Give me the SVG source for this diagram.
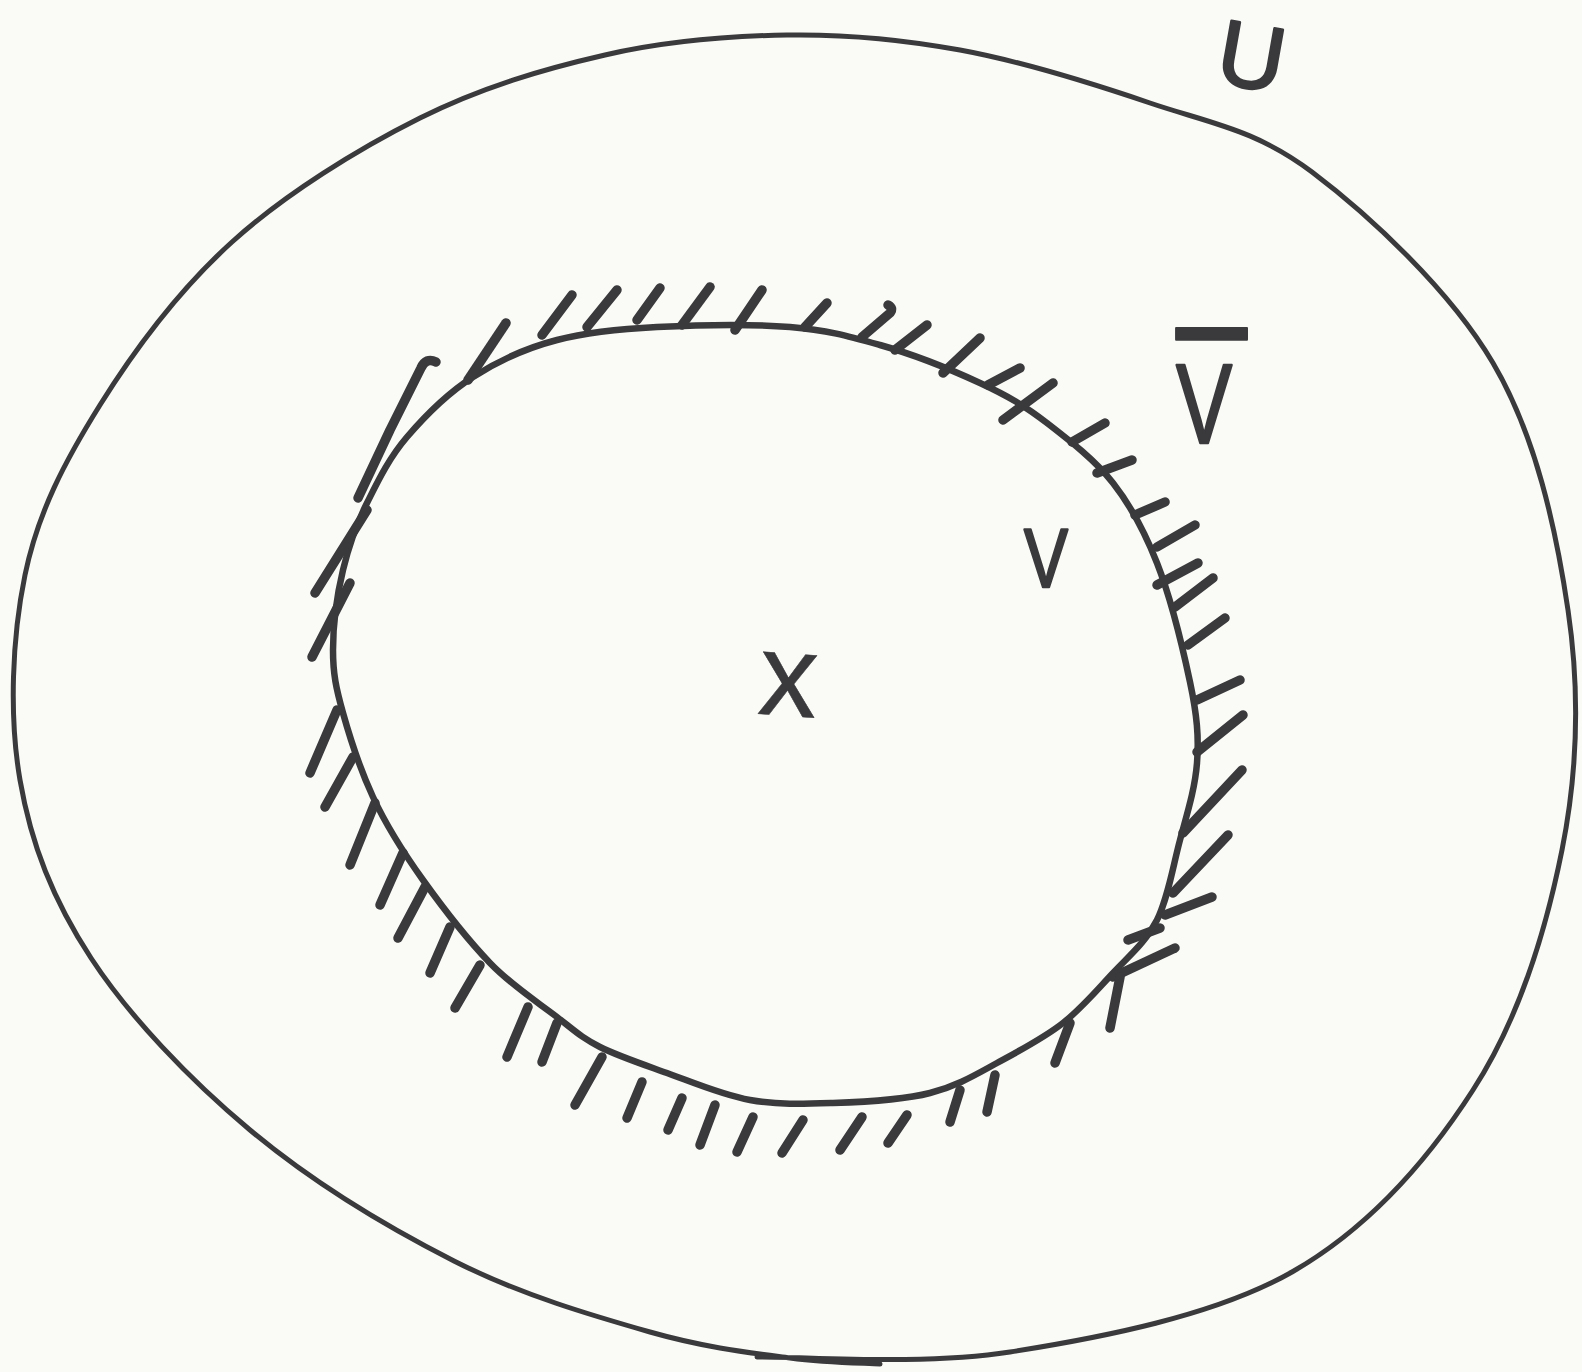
<svg xmlns="http://www.w3.org/2000/svg" width="1582" height="1372" viewBox="0 0 1582 1372">
<style>
.pen{fill:none;stroke:#3a3a3d;stroke-linecap:round;stroke-linejoin:round}
.outer{stroke-width:5}
.inner{stroke-width:6.5}
.h{stroke-width:9.5}
.lbl{font-family:"Liberation Sans","DejaVu Sans",sans-serif;fill:#3a3a3d;stroke:#3a3a3d;stroke-width:2.5;stroke-linejoin:round}
</style>
<rect width="1582" height="1372" fill="#fafaf7"/>
<g id="set-U">
<path class="pen outer" d="M757,1357 C799,1356 921,1366 1010,1352 C1099,1338 1215,1316 1292,1272 C1369,1228 1428,1160 1473,1090 C1519,1019 1546,930 1562,850 C1578,770 1580,691 1568,610 C1556,529 1536,436 1493,363 C1450,290 1369,215 1312,172 C1255,129 1209,123 1150,103 C1091,83 1020,61 960,50 C900,39 846,34 787,35 C728,36 666,41 605,55 C544,69 482,87 420,118 C358,149 285,194 232,242 C179,290 135,349 100,405 C65,461 38,512 25,575 C12,638 9,716 20,780 C31,844 53,900 91,958 C129,1016 189,1079 250,1130 C311,1181 387,1227 454,1261 C521,1295 594,1316 650,1332 C706,1348 752,1353 790,1358 C828,1363 865,1363 880,1364"/>
</g>
<g id="set-V">
<path class="pen inner" d="M790,327 C827,330 848,336 880,345 C912,354 952,370 980,383 C1008,396 1025,406 1047,423 C1069,440 1095,460 1113,483 C1131,506 1144,530 1157,563 C1170,596 1183,649 1190,682 C1197,715 1199,737 1197,763 C1195,789 1187,814 1180,840 C1173,866 1168,898 1157,920 C1146,942 1129,956 1113,973 C1097,990 1082,1008 1063,1023 C1044,1038 1019,1051 997,1063 C975,1075 957,1086 930,1093 C903,1100 863,1102 833,1103 C803,1104 778,1105 750,1100 C722,1095 692,1082 667,1073 C642,1064 618,1056 600,1047 C582,1038 575,1031 557,1017 C539,1003 512,986 490,963 C468,940 443,908 423,880 C403,852 386,825 373,797 C360,769 350,738 343,713 C336,688 333,674 333,650 C333,626 337,595 343,570 C349,545 356,525 367,503 C378,481 389,458 407,437 C425,416 448,393 473,377 C498,361 526,348 557,340 C588,332 618,329 657,327 C696,325 753,324 790,327 Z"/>
</g>
<g id="hatching" class="pen h">
<path d="M436,362 Q426,357 421,368 L390,430 L358,498"/>
<path d="M506,323 L468,380"/>
<path d="M572,295 L542,335"/>
<path d="M617,290 L587,327"/>
<path d="M660,288 L637,320"/>
<path d="M710,287 L682,325"/>
<path d="M762,290 L735,330"/>
<path d="M367,510 L315,593"/>
<path d="M350,583 L312,657"/>
<path d="M827,303 L805,327"/>
<path d="M888,305 Q894,308 890,313 L862,337"/>
<path d="M927,325 L895,350"/>
<path d="M980,338 L943,373"/>
<path d="M1020,368 L988,385"/>
<path d="M1053,383 L1003,420"/>
<path d="M1105,423 L1072,442"/>
<path d="M1132,460 L1097,473"/>
<path d="M1165,502 L1135,515"/>
<path d="M1195,525 L1157,547"/>
<path d="M1198,563 L1157,585"/>
<path d="M1213,578 L1175,607"/>
<path d="M1225,618 L1188,645"/>
<path d="M1240,680 L1197,700"/>
<path d="M1243,715 L1197,752"/>
<path d="M1242,770 L1183,833"/>
<path d="M1228,835 L1173,893"/>
<path d="M1212,897 L1165,915"/>
<path d="M1160,928 L1128,940"/>
<path d="M1175,948 L1113,977"/>
<path d="M1120,977 L1110,1028"/>
<path d="M1070,1023 L1055,1063"/>
<path d="M995,1075 L987,1112"/>
<path d="M960,1090 L950,1122"/>
<path d="M907,1115 L888,1143"/>
<path d="M862,1117 L840,1150"/>
<path d="M803,1120 L782,1153"/>
<path d="M753,1117 L737,1152"/>
<path d="M715,1105 L700,1145"/>
<path d="M682,1098 L668,1130"/>
<path d="M642,1082 L627,1118"/>
<path d="M602,1057 L575,1105"/>
<path d="M557,1023 L542,1062"/>
<path d="M528,1007 L507,1057"/>
<path d="M480,965 L455,1008"/>
<path d="M450,927 L430,973"/>
<path d="M425,887 L398,938"/>
<path d="M403,853 L380,905"/>
<path d="M375,803 L350,865"/>
<path d="M353,757 L325,807"/>
<path d="M337,710 L310,773"/>
</g>
<g id="labels">
<text class="lbl" x="1252" y="88" font-size="92" text-anchor="middle" transform="rotate(10 1252 55)">U</text>
<text class="lbl" x="0" y="0" font-size="114" letter-spacing="20" text-decoration="overline" transform="translate(1176 443) scale(0.74 1)">V</text>
<text class="lbl" x="1024" y="587" font-size="84" textLength="44" lengthAdjust="spacingAndGlyphs">V</text>
<text class="lbl" x="788" y="716" font-size="118" text-anchor="middle" style="stroke-width:0.5" transform="rotate(4 788 685)">x</text>
</g>
</svg>
